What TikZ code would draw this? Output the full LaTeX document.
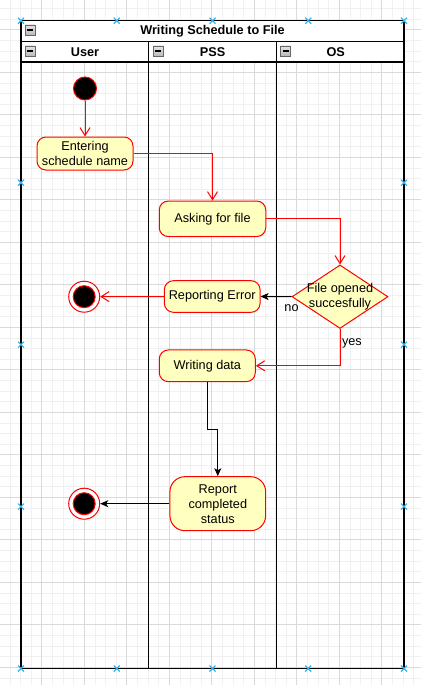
\documentclass[tikz,border=0pt]{standalone}
\usepackage{fontspec}
\setmainfont{Liberation Sans}
\usepackage{tikz}
\usetikzlibrary{arrows.meta,positioning,calc,shapes.geometric}
\definecolor{actfill}{HTML}{FFFFC0}
\definecolor{handle}{HTML}{29B6F2}
\definecolor{gridmajor}{HTML}{DADADA}
\definecolor{gridminor}{HTML}{F0F0F0}
\newcommand*{\Fold}[2]{\draw[draw=gray!80!black,top color=gray!20,bottom color=gray!55,line width=0.6pt] (#1,#2) rectangle ++(10,10);
  \draw[line width=1.2pt] (#1+2,#2+5) -- (#1+8,#2+5);
}
\newcommand*{\Handle}[2]{\draw[handle,line width=1.2pt] (#1-3,#2-3) -- (#1+3,#2+3) (#1-3,#2+3) -- (#1+3,#2-3);}
\newcommand*{\Final}[3]{\node[circle,draw=red,fill=white,line width=1pt,minimum size=31pt,inner sep=0pt] (#3) at (#1,#2) {};
  \node[circle,draw=red,fill=black,line width=1pt,minimum size=22pt,inner sep=0pt] (#3c) at (#1,#2) {};
}

\begin{document}
\begin{tikzpicture}[x=1pt,y=-1pt,font=\fontsize{12.7}{15}\selectfont]
\tikzstyle{action}=[draw=red,fill=actfill,line width=1pt,rounded corners=9pt,align=center,inner sep=0pt]
\tikzstyle{head}=[font=\fontsize{12.7}{15}\selectfont\bfseries]
\tikzstyle{lane}=[line width=1.2pt]
\tikzstyle{flow}=[draw=red,line width=1pt,-{Straight Barb[length=8pt,width=10pt]}]
\tikzstyle{back}=[line width=1pt,-{Stealth[length=8pt,width=7pt,inset=2pt]}]
\useasboundingbox (0,0) rectangle (421,685);
\begin{scope}
\clip (0,0) rectangle (421,685);
\foreach \gx in {0,...,40} \draw[gridminor,line width=0.8pt] (\gx*10.625-0.7,0) -- ++(0,685);
\foreach \gy in {0,...,66} \draw[gridminor,line width=0.8pt] (0,\gy*10.625-12.7) -- ++(421,0);
\foreach \gx in {0,...,10} \draw[gridmajor,line width=0.8pt] (\gx*42.5-0.7,0) -- ++(0,685);
\foreach \gy in {0,...,16} \draw[gridmajor,line width=0.8pt] (0,\gy*42.5-12.7) -- ++(421,0);
\end{scope}
\draw[lane,fill=white] (21,20.7) rectangle (404,62);
\draw[lane] (21,41.3) -- (404,41.3);
\draw[lane] (21,20.7) rectangle (404,668.5);
\draw[lane] (148.7,41.3) -- (148.7,668.5);
\draw[lane] (276.3,41.3) -- (276.3,668.5);
\Fold{25}{25}
\Fold{25}{46}
\Fold{153.3}{46}
\Fold{280.7}{46}
\node[head] (title) at (212.5,31) {Writing Schedule to File};
\node[head] (user) at (85,51.7) {User};
\node[head] (pss) at (212.7,51.7) {PSS};
\node[head] (os) at (335.7,51.7) {OS};
\node[circle,draw=red,fill=black,line width=1pt,minimum size=23pt,inner sep=0pt] (start) at (85,88.5) {};
\node[action,minimum width=96pt,minimum height=33pt] (enter) at (85,153.5) {Entering\\schedule name};
\node[action,minimum width=106.5pt,minimum height=35.5pt] (ask) at (212.5,218.8) {Asking for file};
\node[shape=diamond,draw=red,fill=actfill,line width=1pt,minimum width=96pt,minimum height=63.5pt,inner sep=0pt] (open) at (340,296.7) {};
\node[align=center] (opentext) at (open) {File opened\\succesfully};
\node[action,minimum width=95.7pt,minimum height=31.6pt] (error) at (212.2,296.5) {Reporting Error};
\Final{84.2}{296.7}{stop1}
\node[action,minimum width=96pt,minimum height=31.7pt] (write) at (207.3,365.8) {Writing data};
\node[action,rounded corners=15pt,minimum width=95.7pt,minimum height=54pt] (report) at (217.8,503.7) {Report\\completed\\status};
\Final{84.2}{503.7}{stop2}
\draw[flow] (start) -- (enter);
\draw[flow] (enter.east) -| (ask.north);
\draw[flow] (ask.east) -| (open.north);
\draw[back] (open.west) -- node[below,pos=0,yshift=-4pt] {no} (error.east);
\draw[flow] (error.west) -- (stop1);
\draw[flow] (open.south) |- node[right,pos=0.19,inner sep=1.5pt] {yes} (write.east);
\draw[back] (write.south) |- ($(write.south)!.5!(report.north)$) -| (report.north);
\draw[back] (report.west) -- (stop2);
\foreach \hx in {21,116.75,212.5,308.25,404} {\Handle{\hx}{20.7} \Handle{\hx}{668.5}}
\foreach \hy in {182.7,344.6,506.6} {\Handle{21}{\hy} \Handle{404}{\hy}}
\end{tikzpicture}
\end{document}
